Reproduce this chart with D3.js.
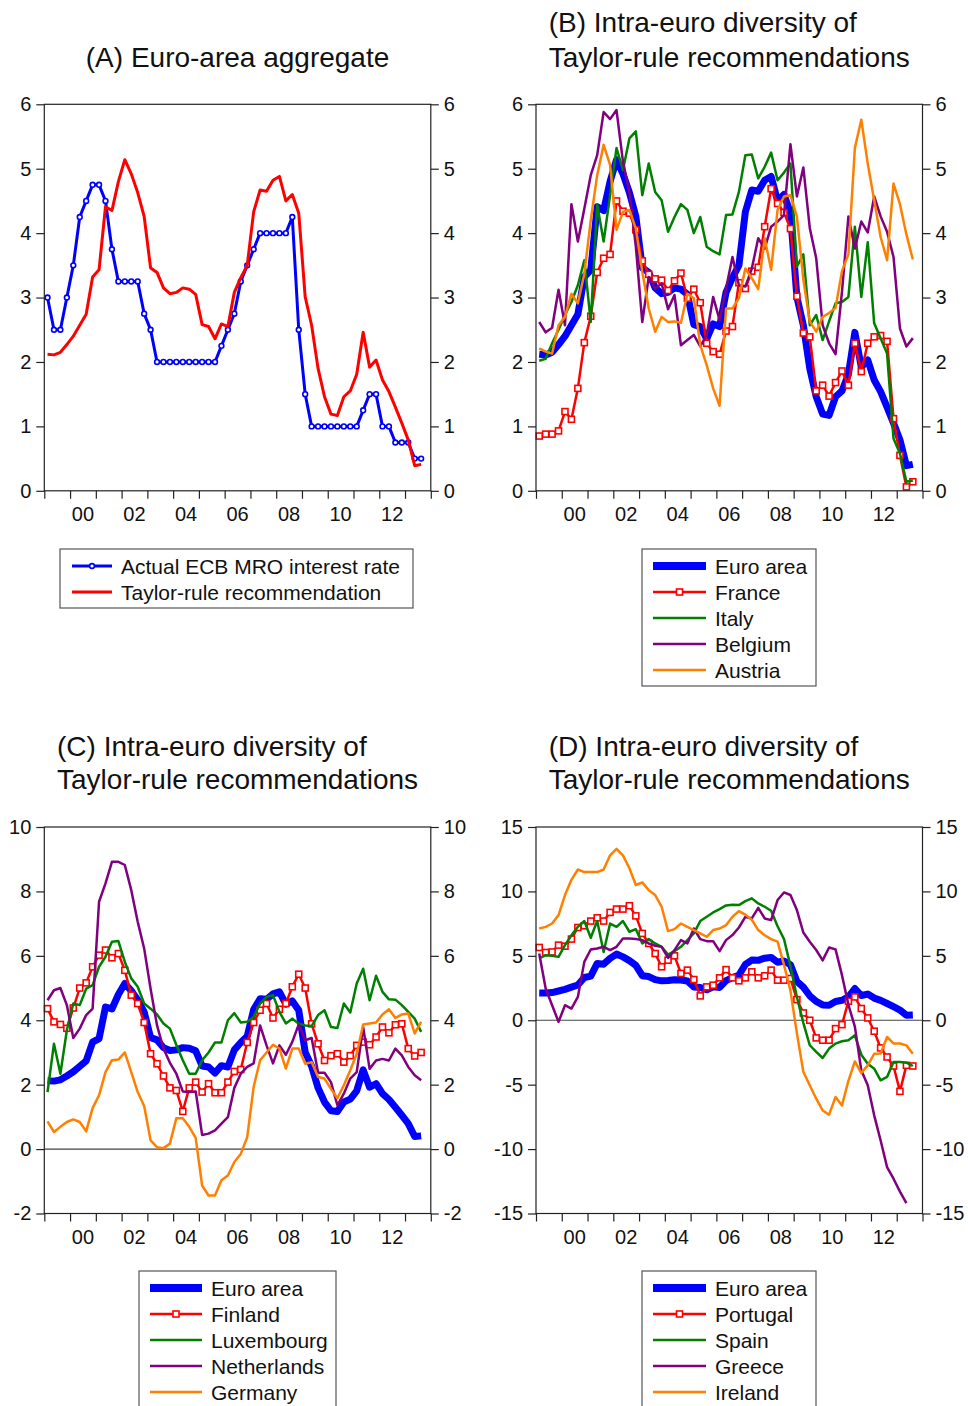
<!DOCTYPE html>
<html>
<head>
<meta charset="utf-8">
<script src="https://cdn.jsdelivr.net/npm/d3@7"></script>
<style>
  body { margin: 0; background: #fff; }
  svg text { font-family: "Liberation Sans", Arial, sans-serif; fill: #111; }
</style>
</head>
<body>
<svg id="chart" width="968" height="1406"></svg>
<script>
// quarterly observations 1999Q1 .. 2013Q3
const quarters = [];
for (let yr = 1999; yr <= 2013; yr++) {
    for (let q = 1; q <= 4; q++) {
        if (quarters.length < 59) quarters.push(yr + "Q" + q);
    }
}

const yearTicks = d3.range(1999, 2015);
const yearLabels = ["00", "02", "04", "06", "08", "10", "12"];

// (A) actual ECB MRO rate
const ecbRate = [3.0, 2.5, 2.5, 3.0, 3.5, 4.25, 4.5, 4.75, 4.75, 4.5, 3.75, 3.25,
    3.25, 3.25, 3.25, 2.75, 2.5, 2.0, 2.0, 2.0, 2.0, 2.0, 2.0, 2.0,
    2.0, 2.0, 2.0, 2.25, 2.5, 2.75, 3.25, 3.5, 3.75, 4.0, 4.0, 4.0,
    4.0, 4.0, 4.25, 2.5, 1.5, 1.0, 1.0, 1.0, 1.0, 1.0, 1.0, 1.0,
    1.0, 1.25, 1.5, 1.5, 1.0, 1.0, 0.75, 0.75, 0.75, 0.5, 0.5];

// euro-area Taylor-rule recommendation (also "Euro area" in B, C, D)
const euroArea = [2.12, 2.11, 2.15, 2.27, 2.40, 2.57, 2.74, 3.32, 3.43, 4.41, 4.35, 4.80,
    5.14, 4.92, 4.63, 4.26, 3.46, 3.39, 3.15, 3.06, 3.08, 3.15, 3.13, 3.05,
    2.58, 2.55, 2.36, 2.59, 2.55, 3.08, 3.31, 3.50, 4.33, 4.67, 4.65, 4.82,
    4.88, 4.50, 4.60, 4.31, 3.01, 2.57, 1.90, 1.46, 1.19, 1.17, 1.46, 1.55,
    1.81, 2.46, 1.92, 2.03, 1.72, 1.54, 1.30, 1.05, 0.79, 0.39, 0.41];

// (B)
const france = [0.85, 0.88, 0.88, 0.93, 1.23, 1.11, 1.59, 2.30, 2.71, 3.39, 3.61, 3.67,
    4.50, 4.34, 4.31, 4.05, 3.57, 3.36, 3.29, 3.27, 3.11, 3.26, 3.38, 2.99,
    3.13, 2.92, 2.29, 2.16, 2.12, 2.48, 2.55, 3.23, 3.14, 3.41, 3.47, 4.10,
    4.69, 4.46, 4.32, 4.07, 3.02, 2.45, 2.39, 1.55, 1.64, 1.47, 1.68, 1.86,
    1.64, 2.29, 1.85, 2.29, 2.39, 2.41, 2.32, 1.12, 0.55, 0.06, 0.14];
const italy = [2.02, 2.05, 2.29, 2.50, 2.73, 2.93, 3.19, 3.58, 2.62, 4.44, 3.87, 4.59,
    5.32, 4.98, 5.47, 5.58, 4.59, 5.08, 4.64, 4.51, 4.02, 4.25, 4.45, 4.36,
    4.00, 4.25, 3.79, 3.72, 3.67, 4.28, 4.29, 4.64, 5.21, 5.22, 4.85, 5.03,
    5.25, 4.82, 4.94, 5.08, 3.48, 3.67, 2.57, 2.73, 2.34, 2.63, 2.91, 2.93,
    3.01, 4.10, 3.01, 3.86, 2.60, 2.37, 2.13, 0.81, 0.58, 0.14, 0.16];
const belgium = [2.62, 2.46, 2.53, 3.12, 2.57, 4.45, 3.87, 4.38, 4.90, 5.21, 5.88, 5.77,
    5.91, 5.11, 4.64, 3.79, 2.62, 3.32, 3.14, 3.22, 2.82, 3.04, 2.26, 2.34,
    2.42, 2.24, 2.42, 3.01, 2.65, 3.14, 3.63, 3.19, 3.17, 3.45, 3.92, 3.76,
    4.10, 4.18, 4.28, 5.38, 4.57, 5.02, 4.08, 3.61, 2.57, 2.29, 2.12, 3.09,
    4.26, 3.76, 4.18, 4.01, 4.57, 4.26, 4.02, 3.63, 2.52, 2.24, 2.37];
const austria = [2.21, 2.16, 2.13, 2.57, 2.70, 3.06, 2.91, 3.37, 4.20, 4.90, 5.37, 5.06,
    4.05, 4.33, 4.36, 4.07, 3.40, 2.83, 2.47, 2.70, 2.62, 2.63, 2.61, 3.06,
    2.99, 2.26, 1.95, 1.59, 1.32, 2.83, 2.83, 2.99, 3.45, 3.30, 3.13, 3.92,
    3.43, 4.36, 4.57, 4.59, 4.26, 3.28, 2.63, 2.47, 2.70, 2.76, 2.84, 3.41,
    3.67, 5.32, 5.76, 5.08, 4.51, 3.94, 3.58, 4.77, 4.45, 3.98, 3.59];

// (C)
const finland = [4.36, 3.95, 3.87, 3.75, 4.38, 5.00, 5.16, 5.66, 6.02, 6.18, 5.94, 6.07,
    5.55, 4.78, 4.52, 3.93, 2.96, 2.65, 2.27, 1.90, 1.82, 1.17, 1.90, 2.08,
    1.77, 2.03, 1.75, 1.75, 2.08, 2.41, 2.47, 3.31, 3.93, 4.31, 4.52, 4.07,
    4.34, 4.52, 5.04, 5.43, 5.00, 3.89, 3.27, 2.75, 2.90, 2.96, 2.70, 2.90,
    3.22, 3.32, 3.24, 3.48, 3.79, 3.61, 3.86, 3.89, 3.12, 2.89, 3.00];
const luxembourg = [1.77, 3.27, 2.34, 3.69, 4.52, 4.47, 4.98, 5.09, 5.66, 5.97, 6.44, 6.46,
    5.81, 5.30, 5.04, 4.52, 4.36, 4.18, 3.90, 3.74, 3.23, 2.76, 2.34, 2.34,
    2.76, 3.00, 3.31, 3.31, 4.00, 4.22, 3.93, 3.95, 4.10, 4.52, 4.72, 4.78,
    4.26, 3.90, 4.05, 3.89, 3.84, 3.82, 4.16, 4.31, 3.79, 3.76, 4.52, 4.24,
    5.14, 5.60, 4.62, 5.38, 4.88, 4.65, 4.64, 4.47, 4.26, 4.05, 3.64];
const netherlands = [4.62, 4.93, 5.00, 4.47, 3.45, 3.74, 4.16, 4.36, 7.68, 8.25, 8.92, 8.92,
    8.82, 8.04, 7.06, 6.23, 4.98, 3.84, 3.12, 2.68, 2.34, 1.79, 1.77, 1.79,
    0.44, 0.48, 0.58, 0.79, 0.99, 1.90, 2.34, 2.55, 2.66, 3.84, 3.22, 2.66,
    3.22, 2.93, 3.33, 3.87, 3.38, 3.45, 2.37, 2.37, 2.08, 1.36, 1.72, 2.19,
    2.39, 3.79, 2.49, 2.75, 2.80, 2.75, 3.12, 2.91, 2.55, 2.29, 2.14];
const germany = [0.86, 0.53, 0.69, 0.84, 0.92, 0.84, 0.55, 1.27, 1.67, 2.39, 2.76, 2.78,
    3.00, 2.39, 1.77, 1.34, 0.27, 0.06, 0.03, 0.17, 0.96, 0.96, 0.69, 0.35,
    -1.13, -1.44, -1.44, -0.97, -0.82, -0.40, -0.15, 0.37, 1.93, 2.76, 3.00, 3.24,
    3.12, 2.50, 3.12, 3.12, 2.65, 2.70, 2.24, 2.19, 1.87, 1.58, 1.98, 2.45,
    2.96, 3.87, 3.90, 3.93, 4.18, 4.34, 4.07, 4.18, 4.21, 3.59, 3.95];

// (D)
const portugal = [5.65, 5.26, 5.30, 5.83, 5.75, 6.30, 7.20, 7.33, 7.70, 7.95, 7.70, 8.37,
    8.63, 8.63, 8.89, 8.10, 6.74, 5.96, 5.18, 4.15, 4.66, 5.00, 3.63, 3.89,
    3.16, 1.89, 2.59, 2.72, 3.29, 3.93, 3.29, 3.06, 3.29, 3.76, 3.29, 3.45,
    3.89, 3.11, 3.11, 3.24, 1.60, 0.57, 0.00, -1.37, -1.55, -1.55, -0.65, -0.34,
    1.48, 1.81, 0.91, 0.18, -0.85, -2.15, -2.85, -3.55, -5.52, -3.50, -3.55];
const spain = [4.80, 5.05, 5.00, 4.92, 5.83, 6.60, 7.25, 7.70, 6.40, 7.70, 5.30, 7.50,
    7.25, 7.70, 6.87, 7.07, 5.96, 6.30, 5.96, 5.70, 5.10, 5.36, 5.70, 6.22,
    6.74, 7.70, 8.03, 8.37, 8.63, 8.91, 8.97, 8.94, 9.25, 9.46, 9.07, 8.81,
    8.50, 7.30, 6.30, 4.20, 1.80, -0.20, -1.94, -2.46, -2.93, -2.20, -1.81, -1.63,
    -1.55, -1.17, -2.67, -3.37, -3.76, -4.66, -4.40, -3.24, -3.24, -3.29, -3.55];
const greece = [5.18, 2.46, 1.17, -0.13, 1.17, 0.91, 1.81, 4.53, 5.49, 5.57, 5.70, 5.44,
    5.70, 6.35, 6.35, 6.30, 6.22, 5.96, 5.78, 5.70, 4.84, 5.44, 6.22, 5.96,
    7.12, 6.30, 6.14, 6.14, 5.36, 6.22, 6.61, 7.20, 8.03, 7.90, 8.73, 7.90,
    7.77, 9.33, 9.92, 9.72, 8.55, 6.81, 6.09, 5.45, 4.65, 5.65, 5.50, 3.50,
    1.20, -0.50, -3.89, -5.05, -7.38, -9.33, -11.4, -12.3, -13.3, -14.2, null];
const ireland = [7.12, 7.25, 7.51, 8.16, 9.72, 10.9, 11.7, 11.5, 11.5, 11.5, 11.7, 12.8,
    13.3, 12.8, 11.8, 10.5, 10.7, 10.1, 9.72, 8.81, 6.92, 7.07, 7.51, 7.25,
    7.00, 6.74, 6.48, 7.00, 7.12, 7.38, 8.03, 8.47, 8.20, 7.80, 7.00, 6.60,
    6.30, 6.10, 4.30, 2.30, -1.00, -4.00, -5.05, -6.09, -7.00, -7.33, -5.96, -6.61,
    -4.70, -3.20, -4.10, -3.50, -2.60, -2.59, -1.30, -1.80, -1.81, -1.95, -2.60];

const BLUE = "#0000ff", RED = "#ff0000", GREEN = "#008000", PURPLE = "#800080", ORANGE = "#ff8000";

const svg = d3.select("#chart");
svg.append("rect").attr("width", 968).attr("height", 1406).attr("fill", "#fff");

const plotW = 386.5, plotH = 386.5;

// quarter label -> fractional year at the middle of the quarter
function qTime(label) {
    const yr = +label.slice(0, 4), q = +label.slice(5);
    return yr + (q - 0.5) / 4;
}

function drawPanel(p) {
    const g = svg.append("g");
    const x = d3.scaleLinear().domain([1999, 2014]).range([p.left, p.left + plotW]);
    const y = d3.scaleLinear().domain(p.yDomain).range([p.top + plotH, p.top]);
    const fmt = d => String(d); // plain hyphen minus, no decimals

    // axes (ticks outward on left, right and bottom)
    const left = g.append("g").attr("transform", `translate(${p.left},0)`)
        .call(d3.axisLeft(y).tickValues(p.yTicks).tickFormat(fmt).tickSize(8).tickPadding(5));
    const right = g.append("g").attr("transform", `translate(${p.left + plotW},0)`)
        .call(d3.axisRight(y).tickValues(p.yTicks).tickFormat(fmt).tickSize(8).tickPadding(5));
    const bottom = g.append("g").attr("transform", `translate(0,${p.top + plotH})`)
        .call(d3.axisBottom(x).tickValues(yearTicks).tickSize(8).tickFormat(""));
    [left, right, bottom].forEach(a => {
        a.select(".domain").remove();
        a.selectAll("line").attr("stroke", "#222").attr("stroke-width", 1.2);
        a.selectAll("text").style("font-size", "20px").attr("fill", "#111");
    });

    g.selectAll(".xlab").data(yearLabels).enter().append("text")
        .attr("x", d => x(2000 + (+d) + 0.5))
        .attr("y", p.top + plotH + 30)
        .attr("text-anchor", "middle")
        .style("font-size", "20px")
        .text(d => d);

    if (p.zeroLine) {
        g.append("line")
            .attr("x1", p.left).attr("x2", p.left + plotW)
            .attr("y1", y(0)).attr("y2", y(0))
            .attr("stroke", "#444").attr("stroke-width", 1.2);
    }

    p.series.forEach(s => {
        const pts = quarters.map((q, i) => ({ t: qTime(q), v: s.values[i] }));
        const line = d3.line()
            .defined(d => d.v != null)
            .x(d => x(d.t)).y(d => y(d.v));
        g.append("path").datum(pts)
            .attr("fill", "none")
            .attr("stroke", s.color)
            .attr("stroke-width", s.width)
            .attr("stroke-linejoin", "round")
            .attr("d", line);
        const ok = pts.filter(d => d.v != null);
        if (s.marker === "circle") {
            g.selectAll(null).data(ok).enter().append("circle")
                .attr("cx", d => x(d.t)).attr("cy", d => y(d.v)).attr("r", 2.4)
                .attr("fill", "#fff").attr("stroke", s.color).attr("stroke-width", 1.6);
        } else if (s.marker === "square") {
            g.selectAll(null).data(ok).enter().append("rect")
                .attr("x", d => x(d.t) - 3).attr("y", d => y(d.v) - 3)
                .attr("width", 6).attr("height", 6)
                .attr("fill", "#fff").attr("stroke", s.color).attr("stroke-width", 1.6);
        }
    });

    // frame
    g.append("rect")
        .attr("x", p.left).attr("y", p.top)
        .attr("width", plotW).attr("height", plotH)
        .attr("fill", "none").attr("stroke", "#222").attr("stroke-width", 1.2);

    // title: lines left-aligned, block centered over the plot
    const cx = p.left + plotW / 2;
    const tl = p.title.map((t, k) => g.append("text")
        .attr("y", p.titleY + k * p.titleGap)
        .style("font-size", "28px")
        .text(t));
    const maxW = d3.max(tl, t => t.node().getComputedTextLength());
    tl.forEach(t => t.attr("x", cx - maxW / 2));

    // legend
    const L = p.legend;
    g.append("rect")
        .attr("x", L.x).attr("y", L.y).attr("width", L.w).attr("height", L.h)
        .attr("fill", "#fff").attr("stroke", "#555").attr("stroke-width", 1.2);
    p.series.forEach((s, k) => {
        const ry = L.y + 17 + k * 26;
        const lw = s.width > 4 ? 8 : s.width;
        g.append("line")
            .attr("x1", L.x + L.pad).attr("x2", L.x + L.pad + L.sample)
            .attr("y1", ry).attr("y2", ry)
            .attr("stroke", s.color).attr("stroke-width", lw);
        const mx = L.x + L.pad + L.sample / 2;
        if (s.marker === "circle") {
            g.append("circle").attr("cx", mx).attr("cy", ry).attr("r", 2.4)
                .attr("fill", "#fff").attr("stroke", s.color).attr("stroke-width", 1.6);
        } else if (s.marker === "square") {
            g.append("rect").attr("x", mx - 3).attr("y", ry - 3).attr("width", 6).attr("height", 6)
                .attr("fill", "#fff").attr("stroke", s.color).attr("stroke-width", 1.6);
        }
        g.append("text")
            .attr("x", L.x + L.pad + L.sample + 9)
            .attr("y", ry + 7.5)
            .style("font-size", "21px")
            .text(s.name);
    });
}

const euro = { name: "Euro area", values: euroArea, color: BLUE, width: 7 };

drawPanel({
    left: 44.3, top: 104.3,
    yDomain: [0, 6], yTicks: [0, 1, 2, 3, 4, 5, 6],
    title: ["(A) Euro-area aggregate"], titleY: 67, titleGap: 0,
    series: [
        { name: "Actual ECB MRO interest rate", values: ecbRate, color: BLUE, width: 3, marker: "circle" },
        { name: "Taylor-rule recommendation", values: euroArea, color: RED, width: 3 }
    ],
    legend: { x: 60, y: 549, w: 353, h: 59, pad: 12, sample: 40 }
});

drawPanel({
    left: 536, top: 104.3,
    yDomain: [0, 6], yTicks: [0, 1, 2, 3, 4, 5, 6],
    title: ["(B) Intra-euro diversity of", "Taylor-rule recommendations"], titleY: 32, titleGap: 35,
    series: [
        euro,
        { name: "France", values: france, color: RED, width: 2.5, marker: "square" },
        { name: "Italy", values: italy, color: GREEN, width: 2.5 },
        { name: "Belgium", values: belgium, color: PURPLE, width: 2.5 },
        { name: "Austria", values: austria, color: ORANGE, width: 2.5 }
    ],
    legend: { x: 642, y: 549, w: 174, h: 137, pad: 11, sample: 53 }
});

drawPanel({
    left: 44.3, top: 827,
    yDomain: [-2, 10], yTicks: [-2, 0, 2, 4, 6, 8, 10], zeroLine: true,
    title: ["(C) Intra-euro diversity of", "Taylor-rule recommendations"], titleY: 756, titleGap: 33,
    series: [
        euro,
        { name: "Finland", values: finland, color: RED, width: 2.5, marker: "square" },
        { name: "Luxembourg", values: luxembourg, color: GREEN, width: 2.5 },
        { name: "Netherlands", values: netherlands, color: PURPLE, width: 2.5 },
        { name: "Germany", values: germany, color: ORANGE, width: 2.5 }
    ],
    legend: { x: 139, y: 1271, w: 197, h: 140, pad: 11, sample: 52 }
});

drawPanel({
    left: 536, top: 827,
    yDomain: [-15, 15], yTicks: [-15, -10, -5, 0, 5, 10, 15], zeroLine: true,
    title: ["(D) Intra-euro diversity of", "Taylor-rule recommendations"], titleY: 756, titleGap: 33,
    series: [
        euro,
        { name: "Portugal", values: portugal, color: RED, width: 2.5, marker: "square" },
        { name: "Spain", values: spain, color: GREEN, width: 2.5 },
        { name: "Greece", values: greece, color: PURPLE, width: 2.5 },
        { name: "Ireland", values: ireland, color: ORANGE, width: 2.5 }
    ],
    legend: { x: 642, y: 1271, w: 174, h: 140, pad: 11, sample: 53 }
});
</script>
</body>
</html>
